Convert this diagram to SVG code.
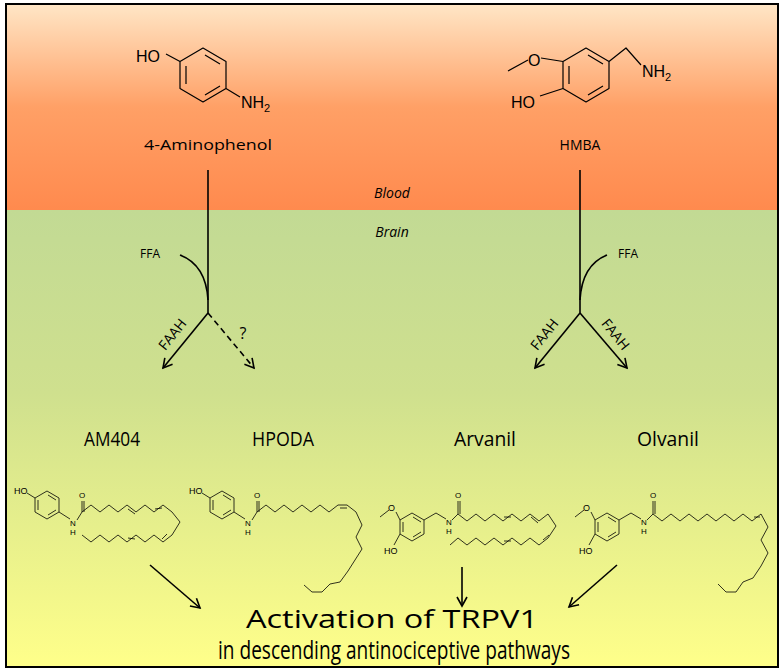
<svg xmlns="http://www.w3.org/2000/svg" width="784" height="671" viewBox="0 0 784 671">
<defs>
<linearGradient id="gTop" x1="0" y1="0" x2="0" y2="1"><stop offset="0" stop-color="#ffe6c6"/><stop offset="0.5" stop-color="#ffa066"/><stop offset="1" stop-color="#ff8a4e"/></linearGradient>
<linearGradient id="gBot" x1="0" y1="0" x2="0" y2="1"><stop offset="0" stop-color="#c2da94"/><stop offset="0.4" stop-color="#cfe08e"/><stop offset="1" stop-color="#ffff8a"/></linearGradient>
<marker id="ah" markerWidth="12" markerHeight="12" refX="10" refY="6" orient="auto" markerUnits="userSpaceOnUse"><path d="M1,1 L10,6 L1,11" fill="none" stroke="#000" stroke-width="1.6"/></marker>
<style>
.t{font-family:"Open Sans","Liberation Sans",sans-serif;fill:#000}
.m{font-family:"Liberation Sans",Arial,sans-serif;fill:#000}
.c{fill:none;stroke:#000;stroke-width:1.2;stroke-linejoin:round}
.cs{fill:none;stroke:#000;stroke-width:0.8;stroke-linejoin:round}
.a{fill:none;stroke:#000;stroke-width:1.6}
</style>
</defs>
<rect x="6" y="4" width="772" height="206" fill="url(#gTop)"/>
<rect x="6" y="210" width="772" height="457" fill="url(#gBot)"/>
<rect x="6" y="4" width="772" height="663" fill="none" stroke="#000" stroke-width="2"/>

<g id="aminophenol">
<polygon class="c" points="203,48 226,61.5 226,88.5 203,102 180,88.5 180,61.5"/>
<path class="c" d="M205,55 L220,64 M220,86 L205,95 M186,66 L186,84"/>
<path class="c" d="M180,61.5 L166,54 M226,88.5 L240,97"/>
<text class="m" x="136" y="62" font-size="16">HO</text>
<text class="m" x="241" y="108" font-size="16">NH<tspan font-size="11" dy="4">2</tspan></text>
<text class="t" x="208" y="150" font-size="14" text-anchor="middle" textLength="128" lengthAdjust="spacingAndGlyphs">4-Aminophenol</text>
</g>
<g id="hmba">
<polygon class="c" points="586,48 609,61.5 609,88.5 586,102 563,88.5 563,61.5"/>
<path class="c" d="M588,55 L603,64 M603,86 L588,95 M569,66 L569,84"/>
<path class="c" d="M508,71 L528,60 M541,58 L563,61.5 M563,88.5 L540,96 M609,61.5 L626,48 L641,65"/>
<text class="m" x="528" y="66" font-size="16">O</text>
<text class="m" x="511" y="108" font-size="16">HO</text>
<text class="m" x="642" y="77" font-size="16">NH<tspan font-size="11" dy="4">2</tspan></text>
<text class="t" x="580" y="150" font-size="14" text-anchor="middle">HMBA</text>
</g>
<text class="t" x="392" y="198" font-size="14" font-style="italic" text-anchor="middle">Blood</text>
<text class="t" x="392" y="237" font-size="14" font-style="italic" text-anchor="middle">Brain</text>

<g id="connectors">
<path class="a" d="M208,170 L208,313"/>
<path class="a" d="M180,255 Q206,265 208,300"/>
<path class="a" d="M208,313 L163,368" marker-end="url(#ah)"/>
<path class="a" d="M208,313 L254,368" stroke-dasharray="6,4" marker-end="url(#ah)"/>
<path class="a" d="M580,170 L580,313"/>
<path class="a" d="M607,255 Q582,265 580,300"/>
<path class="a" d="M580,313 L535,368" marker-end="url(#ah)"/>
<path class="a" d="M580,313 L627,368" marker-end="url(#ah)"/>
<path class="a" d="M150,565 L200,608" marker-end="url(#ah)"/>
<path class="a" d="M462,567 L462,606" marker-end="url(#ah)"/>
<path class="a" d="M617,565 L569,607" marker-end="url(#ah)"/>
</g>
<text class="t" x="150" y="258" font-size="12" text-anchor="middle">FFA</text>
<text class="t" x="628" y="258" font-size="12" text-anchor="middle">FFA</text>
<text class="t" font-size="14" transform="translate(172,334) rotate(-51)" text-anchor="middle" dominant-baseline="central">FAAH</text>
<text class="t" font-size="16" x="243" y="339" text-anchor="middle">?</text>
<text class="t" font-size="14" transform="translate(544,334) rotate(-51)" text-anchor="middle" dominant-baseline="central">FAAH</text>
<text class="t" font-size="14" transform="translate(616,334) rotate(51)" text-anchor="middle" dominant-baseline="central">FAAH</text>

<g id="am404">
<text class="t" x="112" y="446" font-size="20" text-anchor="middle" textLength="56" lengthAdjust="spacingAndGlyphs">AM404</text>
<polygon class="cs" points="47,491 59,498 59,512 47,519 35,512 35,498"/>
<path class="cs" d="M48,495 L56,500 M56,510 L48,515 M38,500 L38,510 M35,498 L27,493 M59,512 L70,519"/>
<text class="m" x="14" y="494" font-size="9">HO</text>
<text class="m" x="70" y="526" font-size="8">N</text><text class="m" x="70" y="535" font-size="8">H</text>
<text class="m" x="79" y="498" font-size="8">O</text>
<path class="cs" d="M77,520 L82,512 L82,501 M84,512 L84,501"/>
<polyline class="cs" points="82,512 91,505 100,512 109,505 118,512 127,505 136,512 145,505 154,512 163,505 172,512 180,522 172,535 163,542 154,535 145,542 136,535 127,542 118,535 109,542 100,535 91,542 82,535"/>
<path class="cs" d="M128,509 L135,514 M155,509 L162,508 M167,534 L162,539 M128,538 L135,539"/>
</g>
<g id="hpoda">
<text class="t" x="283" y="446" font-size="20" text-anchor="middle" textLength="62" lengthAdjust="spacingAndGlyphs">HPODA</text>
<polygon class="cs" points="222,491 234,498 234,512 222,519 210,512 210,498"/>
<path class="cs" d="M223,495 L231,500 M231,510 L223,515 M213,500 L213,510 M210,498 L202,493 M234,512 L245,519"/>
<text class="m" x="189" y="494" font-size="9">HO</text>
<text class="m" x="245" y="526" font-size="8">N</text><text class="m" x="245" y="535" font-size="8">H</text>
<text class="m" x="254" y="498" font-size="8">O</text>
<path class="cs" d="M252,520 L257,512 L257,501 M259,512 L259,501"/>
<polyline class="cs" points="257,512 266,505 275,512 284,505 293,512 302,505 311,512 320,505 329,512 338,505 347,505 356,512 362,525 356,537 362,549 355,560 348,571 340,582 330,584 322,592 312,592 304,585"/>
<path class="cs" d="M340,508 L347,508"/>
</g>
<g id="arvanil">
<text class="t" x="485" y="446" font-size="20" text-anchor="middle" textLength="62" lengthAdjust="spacingAndGlyphs">Arvanil</text>
<polygon class="cs" points="412,513 424,520 424,534 412,541 400,534 400,520"/>
<path class="cs" d="M413,517 L421,522 M421,532 L413,537 M403,522 L403,532 M400,520 L396,512 M389,510 L380,517 M400,534 L394,545 M424,520 L436,513 L446,519"/>
<text class="m" x="388" y="511" font-size="9">O</text>
<text class="m" x="384" y="554" font-size="9">HO</text>
<text class="m" x="446" y="525" font-size="8">N</text><text class="m" x="446" y="534" font-size="8">H</text>
<text class="m" x="455" y="498" font-size="8">O</text>
<path class="cs" d="M452,520 L458,514 L458,501 M460,514 L460,501"/>
<polyline class="cs" points="458,514 467,521 476,514 485,521 494,514 503,521 512,514 521,521 530,514 539,521 548,514 556,526 548,538 539,545 530,538 521,545 512,538 503,545 494,538 485,545 476,538 467,545 458,538 450,545"/>
<path class="cs" d="M504,517 L511,517 M531,517 L538,523 M549,535 L543,540 M504,541 L511,541"/>
</g>
<g id="olvanil">
<text class="t" x="668" y="446" font-size="20" text-anchor="middle" textLength="62" lengthAdjust="spacingAndGlyphs">Olvanil</text>
<polygon class="cs" points="607,513 619,520 619,534 607,541 595,534 595,520"/>
<path class="cs" d="M608,517 L616,522 M616,532 L608,537 M598,522 L598,532 M595,520 L591,512 M584,510 L575,517 M595,534 L589,545 M619,520 L631,513 L641,519"/>
<text class="m" x="583" y="511" font-size="9">O</text>
<text class="m" x="579" y="554" font-size="9">HO</text>
<text class="m" x="641" y="525" font-size="8">N</text><text class="m" x="641" y="534" font-size="8">H</text>
<text class="m" x="650" y="498" font-size="8">O</text>
<path class="cs" d="M647,520 L653,514 L653,501 M655,514 L655,501"/>
<polyline class="cs" points="653,514 662,521 671,514 680,521 689,514 698,521 707,514 716,521 725,514 734,521 743,514 752,521 761,514 768,527 761,540 768,553 761,566 753,578 743,582 736,592 726,592 718,584"/>
<path class="cs" d="M754,517 L760,517"/>
</g>
<g id="activation">
<text class="t" x="392" y="628" font-size="26" text-anchor="middle" textLength="292" lengthAdjust="spacingAndGlyphs">Activation of TRPV1</text>
<text class="t" x="394" y="659" font-size="26" text-anchor="middle" textLength="352" lengthAdjust="spacingAndGlyphs">in descending antinociceptive pathways</text>
</g>
</svg>
